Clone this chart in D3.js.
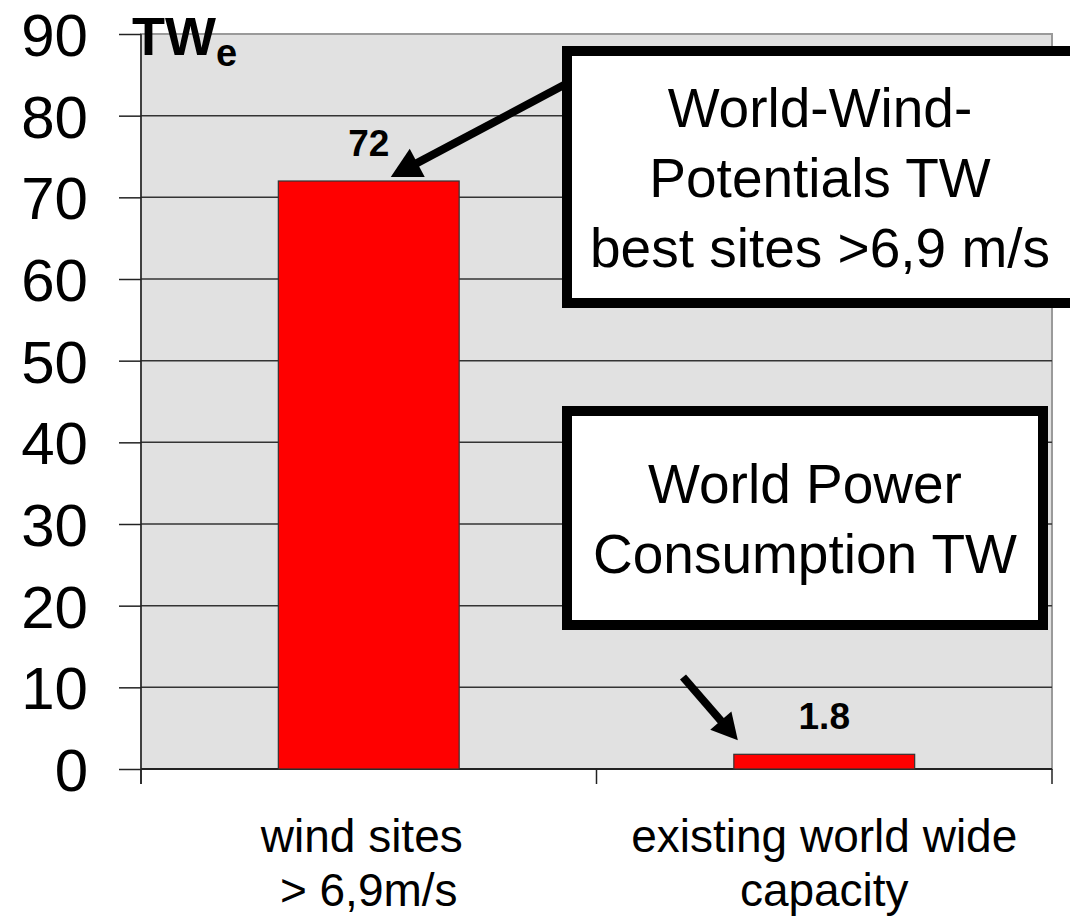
<!DOCTYPE html>
<html><head><meta charset="utf-8">
<script src="https://cdn.jsdelivr.net/npm/d3@7"></script>
<style>
html,body{margin:0;padding:0;background:#fff;}
svg{display:block;font-family:"Liberation Sans",Arial,sans-serif;}
</style></head>
<body>
<svg id="chart" width="1070" height="920"></svg>
<script>
const categories = [["wind sites", "> 6,9m/s"], ["existing world wide", "capacity"]];
const categoryKeys = ["wind", "existing"];
const values = [72, 1.8];
const valueLabels = ["72", "1.8"];
const yTicks = [0, 10, 20, 30, 40, 50, 60, 70, 80, 90];
const unitLabel = "TW";
const unitSub = "e";
const box1Lines = ["World-Wind-", "Potentials TW", "best sites >6,9 m/s"];
const box2Lines = ["World Power", "Consumption TW"];

const svg = d3.select("#chart");
const L = 141, R = 1052, T = 34, B = 769;

const x = d3.scaleBand().domain(categoryKeys).range([L, R]).padding(0);
const y = d3.scaleLinear().domain([0, 90]).range([B, T]);
const barW = x.bandwidth() * 0.397;

// plot background
svg.append("rect").attr("x", L).attr("y", T).attr("width", R - L).attr("height", B - T)
  .attr("fill", "#e1e1e1").attr("stroke", "#9a9a9a").attr("stroke-width", 2);

// gridlines
svg.append("g").selectAll("line").data(yTicks.filter(d => d > 0 && d < 90)).join("line")
  .attr("x1", L).attr("x2", R).attr("y1", d => y(d)).attr("y2", d => y(d))
  .attr("stroke", "#333").attr("stroke-width", 1.5);

// y axis
const yAxis = d3.axisLeft(y).tickValues(yTicks).tickSize(22).tickPadding(31).tickFormat(d3.format("d"));
const gy = svg.append("g").attr("transform", `translate(${L},0)`).call(yAxis);
gy.select(".domain").remove();
gy.selectAll(".tick line").attr("stroke", "#222").attr("stroke-width", 1.5);
gy.selectAll(".tick text").attr("font-size", 60).attr("fill", "#000").attr("dy", "0.36em")
  .attr("font-family", "Liberation Sans, Arial, sans-serif");
svg.append("line").attr("x1", L).attr("x2", L).attr("y1", T).attr("y2", B + 15)
  .attr("stroke", "#222").attr("stroke-width", 1.5);

// x axis
svg.append("line").attr("x1", L).attr("x2", R).attr("y1", B).attr("y2", B)
  .attr("stroke", "#222").attr("stroke-width", 2);
const xEdges = [x.range()[0], ...categoryKeys.map(k => x(k) + x.bandwidth())];
svg.append("g").selectAll("line").data(xEdges).join("line")
  .attr("x1", d => d).attr("x2", d => d).attr("y1", B).attr("y2", B + 15)
  .attr("stroke", "#222").attr("stroke-width", 1.5);

// bars
svg.append("g").selectAll("rect").data(values).join("rect")
  .attr("x", (d, i) => x(categoryKeys[i]) + x.bandwidth() / 2 - barW / 2)
  .attr("width", barW)
  .attr("y", d => y(d))
  .attr("height", d => y(0) - y(d))
  .attr("fill", "#ff0000").attr("stroke", "#333").attr("stroke-width", 1.2);

// value labels
svg.append("g").selectAll("text").data(values).join("text")
  .attr("x", (d, i) => x(categoryKeys[i]) + x.bandwidth() / 2)
  .attr("y", d => y(d) - 25)
  .attr("text-anchor", "middle").attr("font-weight", "bold").attr("font-size", 37)
  .text((d, i) => valueLabels[i]);

// category labels
categories.forEach((lines, i) => {
  const cx = x(categoryKeys[i]) + x.bandwidth() / 2;
  const t = svg.append("text").attr("text-anchor", "middle").attr("font-size", 46).attr("fill", "#000");
  lines.forEach((ln, j) => {
    t.append("tspan").attr("x", cx + (i === 0 && j === 0 ? -7 : 0)).attr("y", 852 + j * 54).text(ln);
  });
});

// unit label
const ut = svg.append("text").attr("x", 132).attr("y", 55).attr("font-weight", "bold").attr("font-size", 54);
ut.append("tspan").text(unitLabel);
ut.append("tspan").attr("font-size", 38).attr("dy", 11).text(unitSub);

// arrows
function arrow(x0, y0, x1, y1, lw, hl, hw) {
  const dx = x1 - x0, dy = y1 - y0, len = Math.hypot(dx, dy);
  const ux = dx / len, uy = dy / len, px = -uy, py = ux;
  const bx = x1 - ux * hl, by = y1 - uy * hl;
  svg.append("line").attr("x1", x0).attr("y1", y0).attr("x2", bx + ux * 2).attr("y2", by + uy * 2)
    .attr("stroke", "#000").attr("stroke-width", lw);
  svg.append("path")
    .attr("d", `M${x1},${y1}L${bx + px * hw / 2},${by + py * hw / 2}L${bx - px * hw / 2},${by - py * hw / 2}Z`)
    .attr("fill", "#000");
}
const tip1x = x(categoryKeys[0]) + x.bandwidth() / 2 + 22, tip1y = y(values[0]) - 4;
arrow(tip1x + 200, tip1y - 200 * 0.531, tip1x, tip1y, 8, 30, 32);
const tip2x = x(categoryKeys[1]) + x.bandwidth() / 2 - barW / 2 + 4, tip2y = y(values[1]) - 14;
arrow(683, 677, tip2x, tip2y, 8, 26, 28);

// annotation boxes
function box(x0, y0, x1, y1, lines, cx, baseY, lh) {
  svg.append("rect").attr("x", x0).attr("y", y0).attr("width", x1 - x0).attr("height", y1 - y0)
    .attr("fill", "#fff").attr("stroke", "#000").attr("stroke-width", 10);
  const t = svg.append("text").attr("text-anchor", "middle").attr("font-size", 55).attr("fill", "#000");
  lines.forEach((ln, j) => t.append("tspan").attr("x", cx).attr("y", baseY + j * lh).text(ln));
}
box(567, 51, 1075, 303, box1Lines, 820, 127, 70);
box(567, 411, 1043, 625, box2Lines, 805, 503, 70);
</script>
</body></html>
